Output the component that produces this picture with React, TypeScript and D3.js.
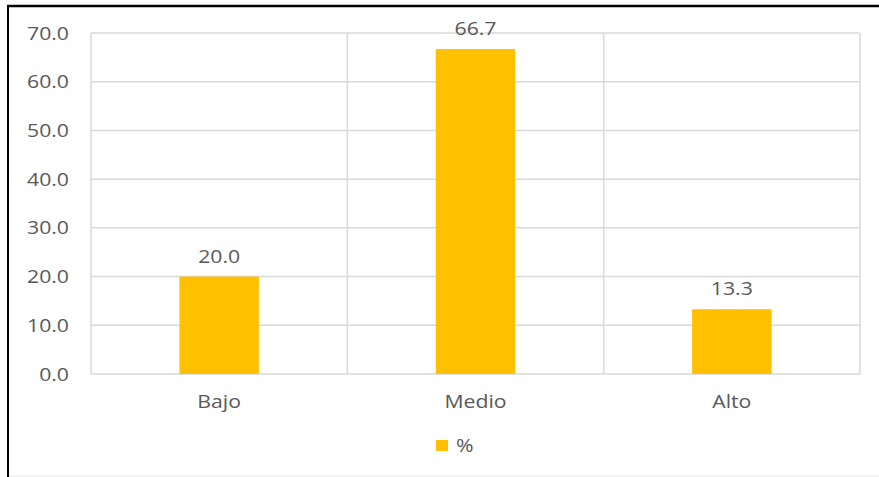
import React from "react";
import * as d3 from "d3";

const categories = ["Bajo", "Medio", "Alto"];
const values = [20.0, 66.7, 13.3];
const yTicks = [0, 10, 20, 30, 40, 50, 60, 70];
const seriesName = "%";

const font = "'Open Sans', 'DejaVu Sans', sans-serif";
const color = "#595959";

function T({ x, y, anchor, children }: { x: number; y: number; anchor: string; children: React.ReactNode }) {
  return (
    <text
      transform={`translate(${x},${y}) scale(1.18,1)`}
      textAnchor={anchor}
      fontFamily={font}
      fontSize={18}
      fill={color}
    >
      {children}
    </text>
  );
}

export default function App() {
  const W = 879, H = 477;
  const left = 91, right = 860, top = 33, bottom = 374;
  const x = d3.scaleBand<string>().domain(categories).range([left, right]).paddingInner(0).paddingOuter(0);
  const y = d3.scaleLinear().domain([0, 70]).range([bottom, top]);
  const barW = x.bandwidth() * 0.31;
  const grid = "#d9d9d9";
  return (
    <svg width={W} height={H} style={{ position: "absolute", left: 0, top: 0 }}>
      <rect x={0} y={0} width={W} height={H} fill="#fff" />
      <line x1={8} x2={8} y1={5} y2={H} stroke="#000" strokeWidth={2} />
      <line x1={7} x2={W} y1={6} y2={6} stroke="#000" strokeWidth={2.5} />
      <line x1={9} x2={W} y1={476} y2={476} stroke="#e6e6e6" strokeWidth={1} />
      {yTicks.map((t) => (
        <line key={t} x1={left} x2={right} y1={y(t)} y2={y(t)} stroke={grid} strokeWidth={1.5} />
      ))}
      {[...categories.map((c) => x(c)!), right].map((xx, i) => (
        <line key={i} x1={xx} x2={xx} y1={top} y2={bottom} stroke={grid} strokeWidth={1.5} />
      ))}
      {yTicks.map((t) => (
        <T key={t} x={69} y={y(t) + 6.5} anchor="end">
          {t.toFixed(1)}
        </T>
      ))}
      {categories.map((c, i) => {
        const cx = x(c)! + x.bandwidth() / 2;
        return (
          <g key={c}>
            <rect x={cx - barW / 2} y={y(values[i])} width={barW} height={bottom - y(values[i])} fill="#ffc000" />
            <T x={cx} y={y(values[i]) - 14} anchor="middle">
              {values[i].toFixed(1)}
            </T>
            <T x={cx} y={408} anchor="middle">
              {c}
            </T>
          </g>
        );
      })}
      <rect x={436} y={440} width={12} height={11} fill="#ffc000" />
      <T x={456} y={451.5} anchor="start">
        {seriesName}
      </T>
    </svg>
  );
}
